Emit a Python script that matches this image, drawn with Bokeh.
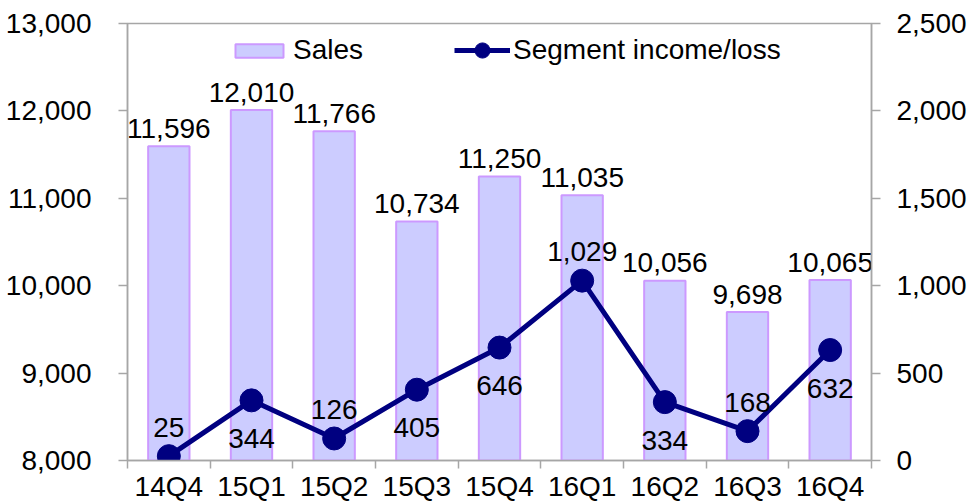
from bokeh.plotting import figure
from bokeh.models import (Range1d, LinearAxis, FixedTicker, NumeralTickFormatter,
                          ColumnDataSource, Legend, LegendItem)
from bokeh.embed import file_html
from bokeh.resources import INLINE

# ---- data ----
quarters = ["14Q4", "15Q1", "15Q2", "15Q3", "15Q4", "16Q1", "16Q2", "16Q3", "16Q4"]
sales = [11596, 12010, 11766, 10734, 11250, 11035, 10056, 9698, 10065]
income = [25, 344, 126, 405, 646, 1029, 334, 168, 632]
left_ticks = [8000, 9000, 10000, 11000, 12000, 13000]
right_ticks = [0, 500, 1000, 1500, 2000, 2500]

FONT = "Liberation Sans"
FS = "28px"
GRAY = "#a6a6a6"
NAVY = "#000080"

n = len(quarters)
xc = [i + 0.5 for i in range(n)]

p = figure(width=969, height=504, output_backend="svg", toolbar_location=None,
           x_range=Range1d(0, n), y_range=Range1d(left_ticks[0], left_ticks[-1]),
           min_border_left=127, min_border_right=98, min_border_top=23,
           min_border_bottom=43, x_axis_location=None, y_axis_location=None)
p.extra_y_ranges = {"right": Range1d(right_ticks[0], right_ticks[-1])}
p.grid.visible = False
p.outline_line_color = GRAY
p.outline_line_width = 1.5
p.background_fill_color = "white"
p.border_fill_color = "white"

def style_axis(ax):
    ax.axis_line_color = GRAY
    ax.axis_line_width = 1.5
    ax.major_tick_line_color = GRAY
    ax.major_tick_line_width = 1.5
    ax.major_tick_in = 0
    ax.major_tick_out = 9
    ax.minor_tick_line_color = None
    ax.major_label_text_font = FONT
    ax.major_label_text_font_size = FS
    ax.major_label_text_color = "black"

# left axis
ly = LinearAxis(ticker=FixedTicker(ticks=left_ticks),
                formatter=NumeralTickFormatter(format="0,0"))
style_axis(ly)
ly.major_label_standoff = 27
p.add_layout(ly, "left")

# right axis
ry = LinearAxis(y_range_name="right", ticker=FixedTicker(ticks=right_ticks),
                formatter=NumeralTickFormatter(format="0,0"))
style_axis(ry)
ry.major_label_standoff = 16
p.add_layout(ry, "right")

# bottom axis: labels at centers, tick marks at category boundaries
bx = LinearAxis(ticker=FixedTicker(ticks=xc, minor_ticks=list(range(n + 1))))
style_axis(bx)
bx.major_tick_line_color = None
bx.major_tick_out = 0
bx.minor_tick_line_color = GRAY
bx.minor_tick_line_width = 1.5
bx.minor_tick_in = 0
bx.minor_tick_out = 8
bx.major_label_standoff = 2
bx.major_label_overrides = {v: q for v, q in zip(xc, quarters)}
p.add_layout(bx, "below")

src = ColumnDataSource(dict(
    x=xc, sales=sales, income=income,
    sales_lbl=[f"{v:,}" for v in sales],
))

bars = p.vbar(x="x", top="sales", bottom=left_ticks[0], width=0.5, source=src,
              fill_color="#ccccff", line_color="#cc99ff", line_width=2)

line = p.line(x="x", y="income", source=src, y_range_name="right",
              line_color=NAVY, line_width=5)
dots = p.scatter(x="x", y="income", source=src, y_range_name="right",
                 size=23, fill_color=NAVY, line_color=NAVY)

p.text(x="x", y="sales", text="sales_lbl", source=src, text_align="center",
       text_baseline="alphabetic", y_offset=-18, text_font={"value": FONT},
       text_font_size=FS, text_color="black")

# income labels: above or below the marker
above = [True, False, True, False, False, True, False, True, False]
up = ColumnDataSource(dict(x=[xc[i] for i in range(n) if above[i]],
                           y=[income[i] for i in range(n) if above[i]],
                           t=[f"{income[i]:,}" for i in range(n) if above[i]]))
dn = ColumnDataSource(dict(x=[xc[i] for i in range(n) if not above[i]],
                           y=[income[i] for i in range(n) if not above[i]],
                           t=[f"{income[i]:,}" for i in range(n) if not above[i]]))
p.text(x="x", y="y", text="t", source=up, y_range_name="right",
       text_align="center", text_baseline="alphabetic", y_offset=-29,
       text_font={"value": FONT}, text_font_size=FS, text_color="black")
p.text(x="x", y="y", text="t", source=dn, y_range_name="right",
       text_align="center", text_baseline="alphabetic", y_offset=38,
       text_font={"value": FONT}, text_font_size=FS, text_color="black")

common = dict(orientation="horizontal", padding=0, margin=0,
              border_line_color=None, background_fill_alpha=0,
              label_text_font=FONT, label_text_font_size=FS,
              label_text_color="black")
leg1 = Legend(items=[LegendItem(label="Sales", renderers=[bars])],
              location=(102, 394), glyph_width=60, glyph_height=17,
              label_standoff=4, **common)
leg2 = Legend(items=[LegendItem(label="Segment income/loss", renderers=[line, dots])],
              location=(327, 391), glyph_width=56, glyph_height=38,
              label_standoff=3, **common)
p.add_layout(leg1)
p.add_layout(leg2)

open("out.html", "w").write(file_html(p, INLINE))
